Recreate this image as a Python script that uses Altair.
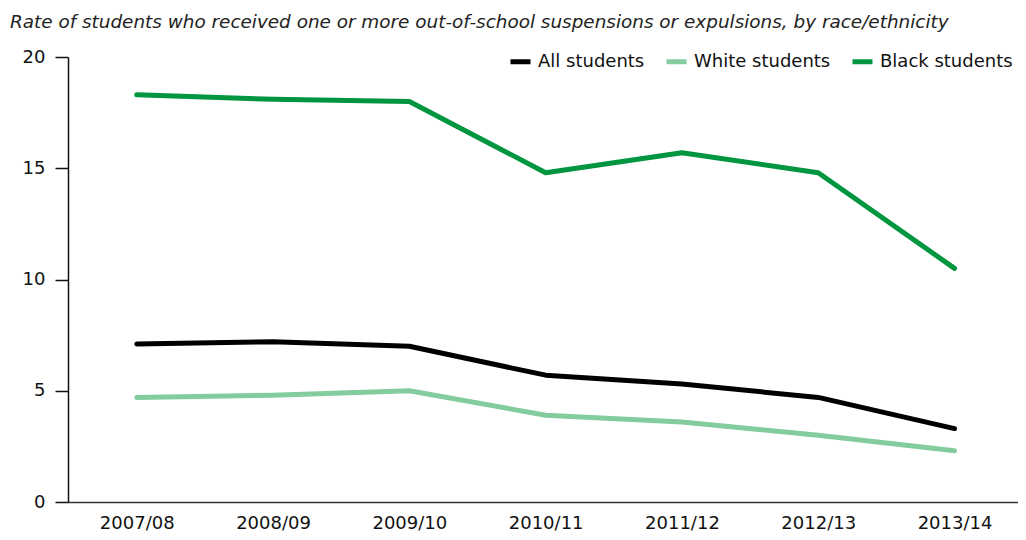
import altair as alt
import pandas as pd

years = ["2007/08", "2008/09", "2009/10", "2010/11", "2011/12", "2012/13", "2013/14"]
all_students = [7.1, 7.2, 7.0, 5.7, 5.3, 4.7, 3.3]
white_students = [4.7, 4.8, 5.0, 3.9, 3.6, 3.0, 2.3]
black_students = [18.3, 18.1, 18.0, 14.8, 15.7, 14.8, 10.5]

series_names = ["All students", "White students", "Black students"]
series_colors = ["#000000", "#82CC9E", "#00953F"]

rows = []
for name, vals in zip(series_names, [all_students, white_students, black_students]):
    for y, v in zip(years, vals):
        rows.append({"year": y, "rate": v, "group": name})
df = pd.DataFrame(rows)

FONT = "DejaVu Sans"

chart = alt.Chart(df).mark_line(strokeWidth=5, strokeCap="round", strokeJoin="round").encode(
    x=alt.X("year:N", sort=years, title=None,
            scale=alt.Scale(padding=0.485, align=0.52),
            axis=alt.Axis(labelAngle=0, ticks=False, labelPadding=12, labelFontSize=18,
                          labelFont=FONT, labelColor="#111", domainColor="#333",
                          domainWidth=1.5, grid=False)),
    y=alt.Y("rate:Q", title=None, scale=alt.Scale(domain=[0, 20]),
            axis=alt.Axis(values=[0, 5, 10, 15, 20], tickSize=13, labelPadding=10,
                          labelFontSize=18, labelFont=FONT, labelColor="#111",
                          domainColor="#111", tickColor="#111", domainWidth=1.5,
                          tickWidth=1.5, grid=False)),
    color=alt.Color("group:N", sort=series_names,
                    scale=alt.Scale(domain=series_names, range=series_colors),
                    legend=alt.Legend(title=None, orient="none", legendX=440, legendY=-8,
                                      direction="horizontal",
                                      symbolType="stroke", symbolStrokeWidth=5,
                                      symbolSize=400, labelFontSize=18, labelFont=FONT,
                                      labelColor="#111", columnPadding=11, labelOffset=5)),
).properties(
    width=950,
    height=445,
    title=alt.TitleParams(
        "Rate of students who received one or more out-of-school suspensions or expulsions, by race/ethnicity",
        anchor="start", frame="group", dx=-58, offset=17, fontSize=18.4,
        fontStyle="italic", fontWeight="normal", font=FONT, color="#222"),
    autosize=alt.AutoSizeParams(type="none"),
    padding={"left": 60, "top": 49, "right": 0, "bottom": 30},
).configure_view(stroke=None)

chart.save("out.html", embed_options={"renderer": "svg", "actions": False})
